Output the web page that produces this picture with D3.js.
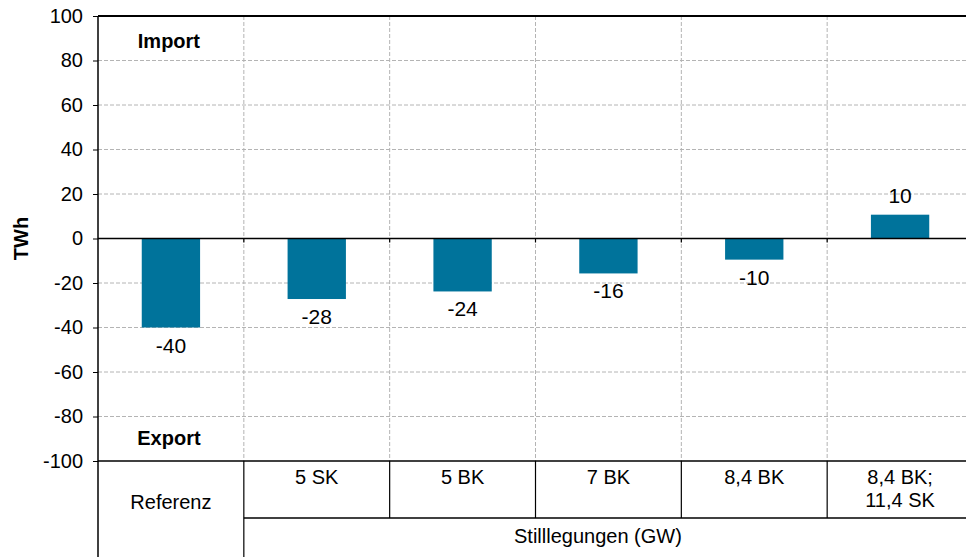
<!DOCTYPE html>
<html>
<head>
<meta charset="utf-8">
<script src="https://cdn.jsdelivr.net/npm/d3@7"></script>
<style>
  html, body { margin: 0; padding: 0; background: #fff; overflow: hidden; }
  svg { display: block; font-family: Arial, "Liberation Sans", sans-serif; }
</style>
</head>
<body>
<svg id="chart" width="966" height="557"></svg>
<script>
// ---- data ----
const categories = ["Referenz", "5 SK", "5 BK", "7 BK", "8,4 BK", "8,4 BK;\n11,4 SK"];
const values = [-40, -27.2, -23.8, -15.7, -9.5, 10.7];
const valueLabels = ["-40", "-28", "-24", "-16", "-10", "10"];
const yTicks = [-100, -80, -60, -40, -20, 0, 20, 40, 60, 80, 100];
const groupLabel = "Stilllegungen (GW)";
const yTitle = "TWh";
const importLabel = "Import";
const exportLabel = "Export";

(function () {
// ---- layout ----
const W = 966, H = 557;
const pLeft = 98, pRight = 973, pTop = 16, pBottom = 461;
const row1 = 518;
const barColor = "#00739b";
const gridColor = "#b4b4b4";

const svg = d3.select("#chart");

const x = d3.scaleBand().domain(categories).range([pLeft, pRight]).paddingInner(0).paddingOuter(0);
const y = d3.scaleLinear().domain([-100, 100]).range([pBottom, pTop]);
const barW = x.bandwidth() * 0.4;

// horizontal gridlines
svg.append("g").selectAll("line")
  .data(yTicks.filter(t => t !== 0 && t !== 100 && t !== -100))
  .join("line")
  .attr("x1", pLeft).attr("x2", pRight)
  .attr("y1", d => y(d)).attr("y2", d => y(d))
  .attr("stroke", gridColor).attr("stroke-width", 1)
  .attr("stroke-dasharray", "4,2");

// vertical gridlines at category boundaries
const bounds = categories.slice(1).map(c => x(c));
svg.append("g").selectAll("line")
  .data(bounds)
  .join("line")
  .attr("x1", d => d).attr("x2", d => d)
  .attr("y1", pTop).attr("y2", pBottom)
  .attr("stroke", gridColor).attr("stroke-width", 1)
  .attr("stroke-dasharray", "4,2");

// bars
svg.append("g").selectAll("rect")
  .data(values)
  .join("rect")
  .attr("x", (d, i) => x(categories[i]) + (x.bandwidth() - barW) / 2)
  .attr("width", barW)
  .attr("y", d => y(Math.max(0, d)))
  .attr("height", d => Math.abs(y(d) - y(0)))
  .attr("fill", barColor);

// value labels
svg.append("g").selectAll("text")
  .data(values)
  .join("text")
  .attr("x", (d, i) => x(categories[i]) + x.bandwidth() / 2)
  .attr("y", d => d < 0 ? y(d) + 25 : y(d) - 12)
  .attr("text-anchor", "middle")
  .attr("font-size", 21)
  .attr("fill", "#000")
  .text((d, i) => valueLabels[i]);

// y axis
const yAxis = d3.axisLeft(y).tickValues(yTicks).tickSize(5).tickPadding(10).tickFormat(d => String(d));
const ya = svg.append("g").attr("transform", `translate(${pLeft},0)`).call(yAxis);
ya.select(".domain").remove();
ya.selectAll(".tick line").attr("stroke", "#000").attr("stroke-width", 1);
ya.selectAll(".tick text").attr("font-size", 20).attr("fill", "#000")
  .attr("font-family", "Arial, 'Liberation Sans', sans-serif");

// left axis line (extends through table)
svg.append("line").attr("x1", pLeft).attr("x2", pLeft).attr("y1", pTop).attr("y2", H)
  .attr("stroke", "#000").attr("stroke-width", 1.5);

// zero line with ticks at category boundaries
svg.append("line").attr("x1", pLeft).attr("x2", pRight).attr("y1", y(0)).attr("y2", y(0))
  .attr("stroke", "#000").attr("stroke-width", 1.5);
svg.append("g").selectAll("line").data(bounds).join("line")
  .attr("x1", d => d).attr("x2", d => d)
  .attr("y1", y(0)).attr("y2", y(0) + 4)
  .attr("stroke", "#000").attr("stroke-width", 1.2);

// top border
svg.append("line").attr("x1", pLeft).attr("x2", pRight).attr("y1", pTop).attr("y2", pTop)
  .attr("stroke", "#000").attr("stroke-width", 2);

// table lines
svg.append("line").attr("x1", pLeft).attr("x2", pRight).attr("y1", pBottom).attr("y2", pBottom)
  .attr("stroke", "#000").attr("stroke-width", 1.5);
svg.append("line").attr("x1", x(categories[1])).attr("x2", pRight).attr("y1", row1).attr("y2", row1)
  .attr("stroke", "#000").attr("stroke-width", 1.5);
svg.append("g").selectAll("line").data(bounds).join("line")
  .attr("x1", d => d).attr("x2", d => d)
  .attr("y1", pBottom).attr("y2", (d, i) => i === 0 ? H : row1)
  .attr("stroke", "#000").attr("stroke-width", 1.2);

// table texts
const tableText = svg.append("g").attr("font-size", 20).attr("fill", "#000").attr("text-anchor", "middle");
categories.forEach((c, i) => {
  const cx = x(c) + x.bandwidth() / 2;
  const lines = c.split("\n");
  const t = tableText.append("text").attr("x", cx);
  if (i === 0) {
    t.attr("y", 509).text(c);
  } else {
    lines.forEach((ln, j) => {
      t.append("tspan").attr("x", cx).attr("y", 484 + j * 23).text(ln);
    });
  }
});
tableText.append("text")
  .attr("x", (x(categories[1]) + W) / 2 - 7)
  .attr("y", 543)
  .text(groupLabel);

// Import / Export labels
svg.append("text").attr("x", x(categories[0]) + x.bandwidth() / 2 - 2).attr("y", 48)
  .attr("text-anchor", "middle").attr("font-size", 20).attr("font-weight", "bold").text(importLabel);
svg.append("text").attr("x", x(categories[0]) + x.bandwidth() / 2 - 2).attr("y", 445)
  .attr("text-anchor", "middle").attr("font-size", 20).attr("font-weight", "bold").text(exportLabel);

// y title
svg.append("text")
  .attr("transform", `translate(28,${y(0)}) rotate(-90)`)
  .attr("text-anchor", "middle").attr("font-size", 20).attr("font-weight", "bold")
  .text(yTitle);
})();
</script>
</body>
</html>
